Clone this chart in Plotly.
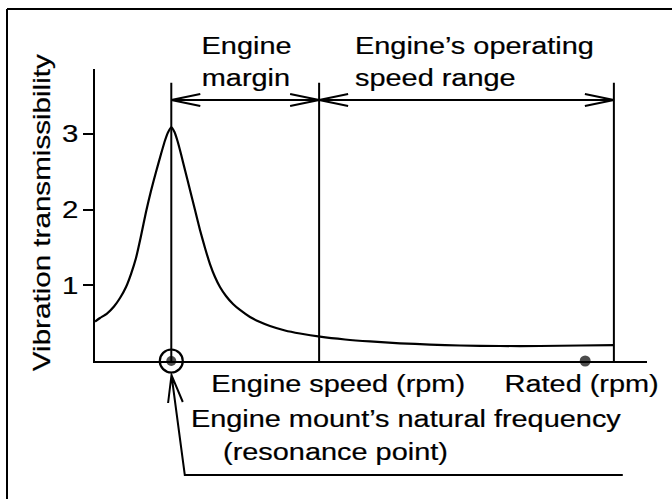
import plotly.graph_objects as go

# ---------------- data ----------------
speed = [0, 0.91, 2.17, 3.44, 4.53, 5.62, 6.52, 7.43, 8.33, 9.24, 10.14, 11.05,
         11.96, 12.68, 13.22, 13.82, 14.40, 14.95, 15.58, 16.30, 17.21, 18.12,
         19.02, 19.93, 20.83, 21.74, 22.64, 23.73, 25.00, 26.27, 28.08, 29.89,
         31.70, 34.42, 37.14, 40.76, 45.29, 49.82, 55.25, 60.69, 66.12, 73.37,
         80.62, 87.86, 94.02]
transmissibility = [0.522, 0.568, 0.627, 0.720, 0.832, 0.978, 1.149, 1.361, 1.651,
                    1.968, 2.246, 2.497, 2.734, 2.913, 3.019, 3.085, 3.025, 2.906,
                    2.734, 2.523, 2.259, 1.995, 1.731, 1.493, 1.281, 1.110, 0.978,
                    0.859, 0.753, 0.674, 0.581, 0.515, 0.462, 0.403, 0.363, 0.321,
                    0.284, 0.258, 0.234, 0.217, 0.205, 0.198, 0.198, 0.205, 0.211]

resonance_x = 13.82     # engine mount natural frequency
margin_x = 40.6         # lower limit of operating speed range
max_speed_x = 94.0      # upper limit of operating speed range
rated_x = 88.8          # rated speed
guide_top = 3.676       # top of the vertical guide lines
range_arrow_y = 3.448   # height of the dimension arrows

y_ticks = [1, 2, 3]
y_tick_labels = ["1", "2", "3"]

FONT = "Liberation Sans, Arial, sans-serif"
FS = 23.5

# ---------------- layout geometry ----------------
W, H = 672, 499
ML, MR, MT, MB = 95, 25, 69, 138
PW, PH = W - ML - MR, H - MT - MB


def px_x(p):
    return (p - ML) / PW


def px_y(p):
    return (H - MB - p) / PH


fig = go.Figure()

# response curve
fig.add_trace(go.Scatter(x=speed, y=transmissibility, mode="lines",
                         line=dict(color="black", width=2.2, shape="spline", smoothing=0.6),
                         hoverinfo="skip"))

# vertical guide lines
for gx in [resonance_x, margin_x, max_speed_x]:
    fig.add_trace(go.Scatter(x=[gx, gx], y=[0, guide_top], mode="lines",
                             line=dict(color="black", width=2), hoverinfo="skip"))

# dimension arrow shaft
fig.add_trace(go.Scatter(x=[resonance_x, max_speed_x], y=[range_arrow_y, range_arrow_y],
                         mode="lines", line=dict(color="black", width=2), hoverinfo="skip"))

# resonance point marker (ring + dot) and rated speed dot
fig.add_trace(go.Scatter(x=[resonance_x], y=[0], mode="markers", cliponaxis=False,
                         marker=dict(symbol="circle-open", size=23, color="black",
                                     line=dict(width=2.2, color="black")),
                         hoverinfo="skip"))
fig.add_trace(go.Scatter(x=[resonance_x, rated_x], y=[0, 0], mode="markers", cliponaxis=False,
                         marker=dict(symbol="circle", size=[10, 11], color="black",
                                     line=dict(width=0)),
                         hoverinfo="skip"))

shapes = []
# outer frame (top and left edges)
shapes.append(dict(type="line", xref="paper", yref="paper",
                   x0=px_x(7), y0=px_y(9), x1=px_x(W + 10), y1=px_y(9),
                   line=dict(color="black", width=2)))
shapes.append(dict(type="line", xref="paper", yref="paper",
                   x0=px_x(7), y0=px_y(9), x1=px_x(7), y1=px_y(H + 10),
                   line=dict(color="black", width=2)))

# arrowheads (open V) on the dimension arrows
left_head = "M29,6 L0,0 L29,-6"
right_head = "M-29,6 L0,0 L-29,-6"
for ax_, path in [(resonance_x, left_head), (margin_x, right_head),
                  (margin_x, left_head), (max_speed_x, right_head)]:
    shapes.append(dict(type="path", xref="x", yref="y", xsizemode="pixel", ysizemode="pixel",
                       xanchor=ax_, yanchor=range_arrow_y, path=path,
                       line=dict(color="black", width=2)))

# callout leader to the resonance point
shapes.append(dict(type="path", xref="x", yref="paper", xsizemode="pixel", ysizemode="pixel",
                   xanchor=resonance_x, yanchor=0,
                   path="M-3.2,-42 L0.2,-14 L11.5,-41 M0.2,-14 L13.5,-114 L451.5,-114",
                   line=dict(color="black", width=2)))


def ann(text, px, py, xanchor="center", align="center", angle=0):
    return dict(text=text, xref="paper", yref="paper", x=px_x(px), y=px_y(py),
                xanchor=xanchor, yanchor="middle", align=align, textangle=angle,
                showarrow=False, borderpad=0, borderwidth=0,
                font=dict(family=FONT, size=FS, color="black"))


annotations = [
    ann("Engine", 246, 45.7),
    ann("margin", 246, 78.4),
    ann("Engine’s operating", 355, 45.5, xanchor="left", align="left"),
    ann("speed range", 355, 78.2, xanchor="left", align="left"),
    ann("Engine speed (rpm)", 337.5, 383.7),
    ann("Rated (rpm)", 581.5, 383.7),
    ann("Engine mount’s natural frequency", 406, 419.2),
    ann("(resonance point)", 335, 451.7),
    ann("Vibration transmissibility", 41.5, 213, angle=-90),
]

fig.update_layout(
    width=W, height=H,
    margin=dict(l=ML, r=MR, t=MT, b=MB, pad=0),
    paper_bgcolor="white", plot_bgcolor="white",
    showlegend=False,
    font=dict(family=FONT, size=FS, color="black"),
    shapes=shapes,
    annotations=annotations,
    xaxis=dict(range=[0, 100], showline=True, linecolor="black", linewidth=2,
               showgrid=False, zeroline=False, showticklabels=False, ticks=""),
    yaxis=dict(range=[0, PH / 75.7], showline=True, linecolor="black", linewidth=2,
               showgrid=False, zeroline=False, tickmode="array",
               tickvals=y_ticks, ticktext=y_tick_labels,
               ticks="outside", ticklen=10, tickwidth=2, tickcolor="black",
               tickfont=dict(family=FONT, size=FS, color="black")),
)

# widen the glyphs horizontally (the original artwork uses an extended sans face)
post = ("document.body.style.margin='0';"
        "var gd=document.getElementById('{plot_id}');"
        "function sx(t,s){var x=parseFloat(t.getAttribute('x'))||0;"
        "var tr=t.getAttribute('transform')||'';"
        "t.setAttribute('transform',tr+' translate('+x+',0) scale('+s+',1) translate('+(-x)+',0)');"
        "t.style.stroke='black';t.style.strokeWidth='0.2px';}"
        "gd.querySelectorAll('g.annotation text').forEach(function(t){"
        "sx(t,t.textContent.indexOf('Vibration')===0?1.26:1.23);});"
        "gd.querySelectorAll('g.ytick text').forEach(function(t){sx(t,1.25);});")

fig.write_html("out.html", config={"displayModeBar": False}, post_script=post)
